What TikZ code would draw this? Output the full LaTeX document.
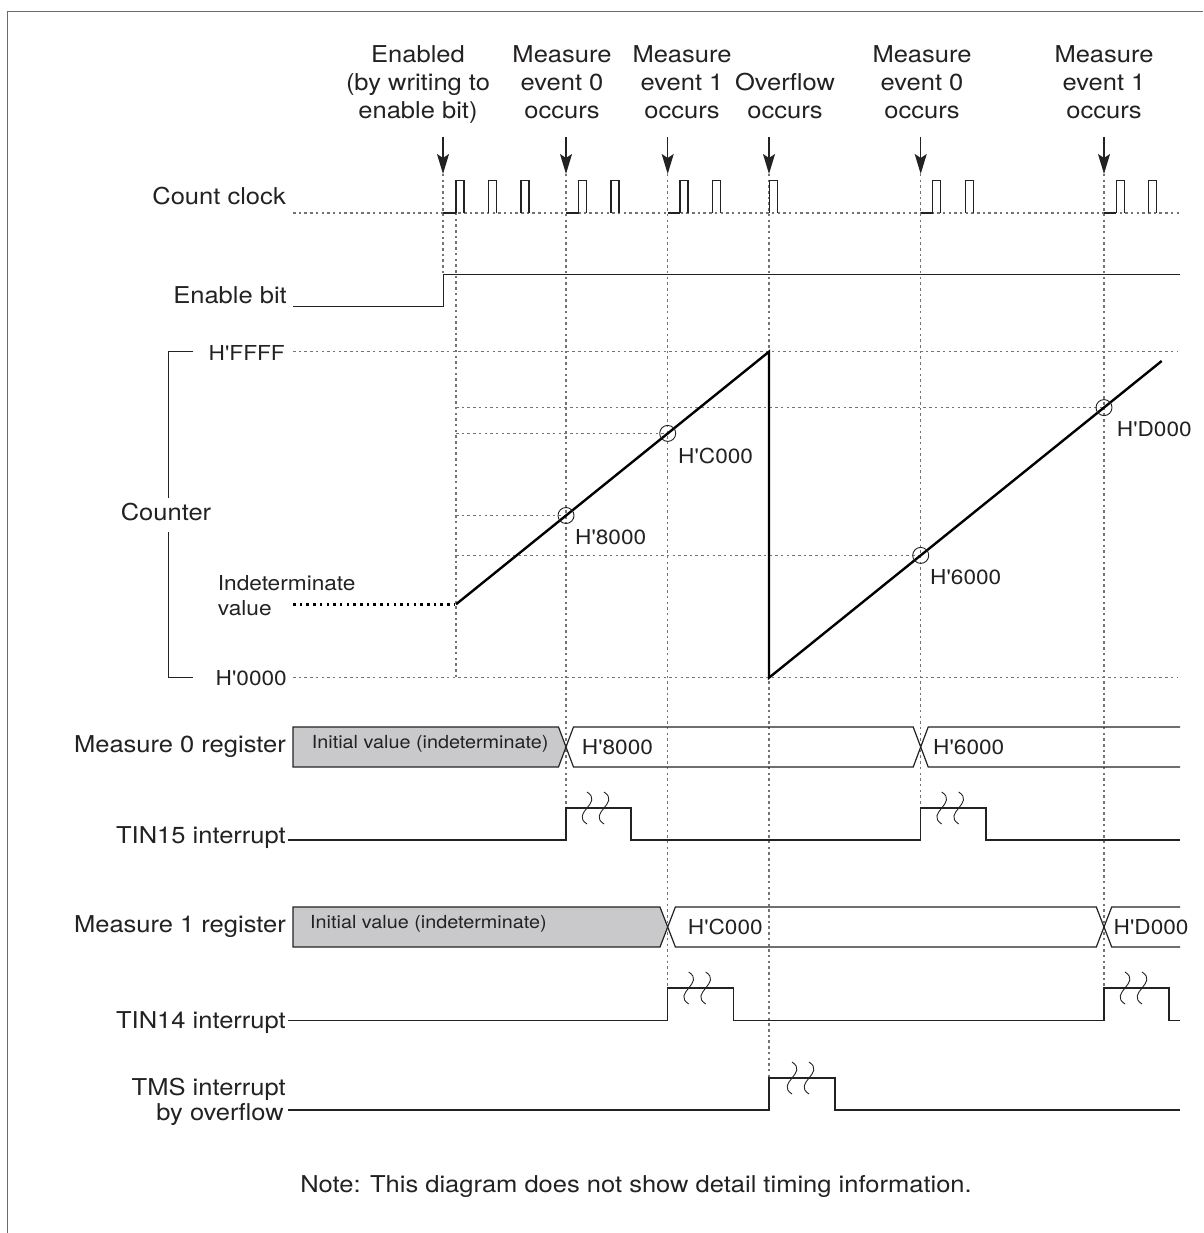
\documentclass[tikz,border=0pt]{standalone}
\usepackage{fontspec}
\newfontfamily\hv{TeX Gyre Heros}[FakeStretch=1.1]
\usetikzlibrary{arrows.meta}
\definecolor{ink}{rgb}{0.14,0.13,0.13}
\definecolor{gridc}{rgb}{0.45,0.45,0.45}
\definecolor{regfill}{rgb}{0.79,0.79,0.80}
\definecolor{framec}{rgb}{0.42,0.42,0.42}
\begin{document}
\begin{tikzpicture}[x=1pt,y=-1pt,
  gridline/.style={draw=gridc,line width=1.1pt,dash pattern=on 2.5pt off 3.2pt},
  wave/.style={draw=ink,line width=1.4pt},
  rampline/.style={draw=black,line width=2.4pt},
  reg/.style={draw=ink,line width=1.2pt},
  squig/.style={draw=ink,line width=0.9pt},
  lbl/.style={font=\hv\fontsize{23.2}{28}\selectfont,text=ink,inner sep=0pt},
  hval/.style={font=\hv\fontsize{20.6}{24}\selectfont,text=ink,inner sep=0pt},
  ival/.style={font=\hv\fontsize{18}{22}\selectfont,text=ink,inner sep=0pt},
  evarrow/.style={draw=ink,line width=1.3pt,-{Stealth[length=20pt,width=12pt,inset=4pt]}}]
\useasboundingbox (0,0) rectangle (1203,1233);
% frame
\draw[draw=framec,line width=1.5pt] (7.3,1233) -- (7.3,11.7) -- (1203,11.7);

% header texts (anchor base = last line)
\node[lbl,align=center,anchor=base] (hEn) at (418,118.5) {Enabled\\(by writing to\\enable bit)};
\node[lbl,align=center,anchor=base] (hM0a) at (562,118.5) {Measure\\event 0\\occurs};
\node[lbl,align=center,anchor=base] (hM1a) at (682,118.5) {Measure\\event 1\\occurs};
\node[lbl,align=center,anchor=base] (hOv) at (785,118.5) {Overflow\\occurs};
\node[lbl,align=center,anchor=base] (hM0b) at (922,118.5) {Measure\\event 0\\occurs};
\node[lbl,align=center,anchor=base] (hM1b) at (1104,118.5) {Measure\\event 1\\occurs};

% event arrows
\foreach \x/\n in {443/aEn,566/aM0a,667.7/aM1a,769/aOv,920.7/aM0b,1104/aM1b}{
  \coordinate (\n s) at (\x,137);
  \coordinate (\n t) at (\x,174);
  \draw[evarrow] (\n s) -- (\n t);
}

% vertical dotted guides
\draw[gridline] (443,174) -- (443,274.3);
\draw[gridline] (456,213) -- (456,677.7);
\draw[gridline] (566,174) -- (566,808);
\draw[gridline] (667.7,174) -- (667.7,988);
\draw[gridline] (769,174) -- (769,1078);
\draw[gridline] (920.7,174) -- (920.7,808);
\draw[gridline] (1104,174) -- (1104,988);

% left labels
\node[lbl,anchor=base east] (lCC) at (286,205) {Count clock};
\node[lbl,anchor=base east] (lEB) at (287,303) {Enable bit};
\node[hval,anchor=base east] (lFF) at (285,360) {H'FFFF};
\node[hval,anchor=base east] (l00) at (287,685.5) {H'0000};
\node[lbl,anchor=base] (lCt) at (166,520) {Counter};
\node[hval,anchor=base west] (lInd) at (217.7,590) {Indeterminate};
\node[hval,anchor=base west] (lVal) at (217.7,615) {value};
\node[lbl,anchor=east] (lM0) at (286,747) {Measure 0 register};
\node[lbl,anchor=base east] (lT15) at (286,843) {TIN15 interrupt};
\node[lbl,anchor=east] (lM1) at (286,927) {Measure 1 register};
\node[lbl,anchor=base east] (lT14) at (286,1028) {TIN14 interrupt};
\node[lbl,anchor=base east] (lTMS) at (286,1095) {TMS interrupt};
\node[lbl,anchor=base east] (lTMSb) at (284,1120) {by overflow};

% count clock
\draw[gridline] (293,213) -- (1180,213);
\foreach \a/\b in {443/456,566/578.5,667.7/680,920.7/932.7,1104/1116.3}
  \draw[wave] (\a,213) -- (\b,213);
\foreach \x in {456,488.5,521,578.5,611,680,712.5,769.3,932.7,965.3,1116.3,1148.7}
  \draw[wave] (\x,213) -- (\x,180.3) -- (\x+8,180.3) -- (\x+8,213);

% enable bit
\draw[wave] (293,306.7) -- (443.3,306.7) -- (443.3,274.3) -- (1180,274.3);

% counter
\draw[draw=ink,line width=1.3pt] (193,351.7) -- (168.3,351.7) -- (168.3,498);
\draw[draw=ink,line width=1.3pt] (168.3,532) -- (168.3,677.7) -- (193,677.7);
\draw[gridline] (293,351.7) -- (1178,351.7);
\draw[gridline] (293,677.7) -- (1178,677.7);
\draw[gridline] (456,407.6) -- (1104,407.6);
\draw[gridline] (456,433.4) -- (667.7,433.4);
\draw[gridline] (456,515.5) -- (566,515.5);
\draw[gridline] (456,555.4) -- (920.7,555.4);
\draw[draw=black,line width=2.4pt,dash pattern=on 2.5pt off 4.2pt] (293,604.3) -- (455,604.3);
\draw[rampline] (456,604.3) -- (769,351.7) -- (769,677.7) -- (1161.7,361);
\foreach \x/\y/\n in {566/515.5/c1,667.7/433.4/c2,920.7/555.4/c3,1104/407.6/c4}
  \draw[draw=ink,line width=0.9pt] (\x,\y) circle[radius=8];
\node[hval,anchor=base west] (v8) at (575,544) {H'8000};
\node[hval,anchor=base west] (vC) at (678,463) {H'C000};
\node[hval,anchor=base west] (v6) at (930,584) {H'6000};
\node[hval,anchor=base west] (vD) at (1116.7,436) {H'D000};

% measure 0 register
\filldraw[reg,fill=regfill] (293,727) -- (558.5,727) -- (566,747) -- (558.5,767) -- (293,767) -- cycle;
\draw[reg] (566,747) -- (573.5,727) -- (913.2,727) -- (920.7,747) -- (913.2,767) -- (573.5,767) -- cycle;
\draw[reg] (1180,727) -- (928.2,727) -- (920.7,747) -- (928.2,767) -- (1180,767);
\node[ival,anchor=west] (r0i) at (311.7,744) {Initial value (indeterminate)};
\node[hval,anchor=west] (r08) at (581.7,747) {H'8000};
\node[hval,anchor=west] (r06) at (933,747) {H'6000};

% measure 1 register
\filldraw[reg,fill=regfill] (293,907) -- (660,907) -- (667.7,927) -- (660,947) -- (293,947) -- cycle;
\draw[reg] (667.7,927) -- (675.4,907) -- (1096.3,907) -- (1104,927) -- (1096.3,947) -- (675.4,947) -- cycle;
\draw[reg] (1180,907) -- (1111.7,907) -- (1104,927) -- (1111.7,947) -- (1180,947);
\node[ival,anchor=west] (r1i) at (310,924) {Initial value (indeterminate)};
\node[hval,anchor=west] (r1C) at (687.7,927) {H'C000};
\node[hval,anchor=west] (r1D) at (1113.5,927) {H'D000};

% interrupts
\draw[wave] (288,840) -- (566,840) -- (566,808) -- (631,808) -- (631,840) -- (920.7,840) -- (920.7,808) -- (986,808) -- (986,840) -- (1180,840);
\draw[wave] (288,1020.7) -- (667.7,1020.7) -- (667.7,988) -- (733.5,988) -- (733.5,1020.7) -- (1104,1020.7) -- (1104,988) -- (1169,988) -- (1169,1020.7) -- (1180,1020.7);
\draw[wave] (288,1110) -- (769,1110) -- (769,1078) -- (835,1078) -- (835,1110) -- (1180,1110);
\foreach \x/\y in {587/808,604/808,941.7/808,958.7/808,688.7/988,705.7/988,1125/988,1142/988,792/1078,809/1078}
  \draw[squig] (\x,\y-16) .. controls (\x+17,\y-5) and (\x-17,\y+5) .. (\x,\y+16);

% note
\node[lbl,anchor=base] (note) at (636,1192) {Note: This diagram does not show detail timing information.};
\end{tikzpicture}
\end{document}
